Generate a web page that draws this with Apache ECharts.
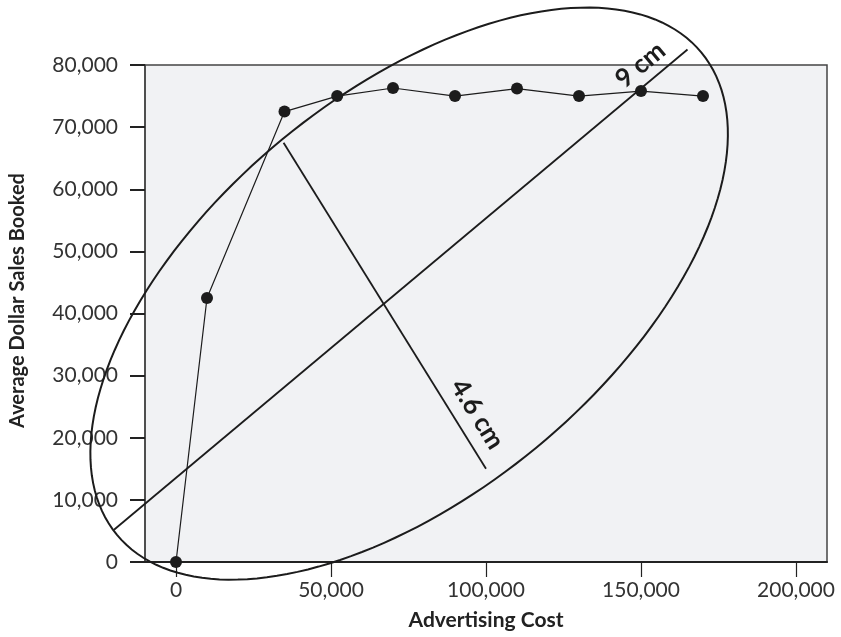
<!DOCTYPE html>
<html>
<head>
<meta charset="utf-8">
<script src="https://cdn.jsdelivr.net/npm/echarts@6/dist/echarts.min.js"></script>
<style>
  html, body { margin: 0; padding: 0; background: #fff; }
  #chart { width: 841px; height: 637px; }
</style>
</head>
<body>
<div id="chart"></div>
<script>
// data
const costs = [0, 10000, 35000, 52000, 70000, 90000, 110000, 130000, 150000, 170000]
const sales = [0, 42500, 72500, 75000, 76300, 75000, 76200, 75000, 75800, 75000]
const xTicks = [0, 50000, 100000, 150000, 200000]

// hand drawn annotation, in data units
const majorAxis = [-20000, 5200, 165000, 82500]
const minorAxis = [34700, 67500, 100000, 15000]
const ellipseCenter = [75200, 43200]
const ellipseMajorEnd = [169500, 82000]
const ellipseMinorEnd = [116200, 18400]
const noteTexts = ['9 cm', '4.6 cm']
const noteX = [149800, 97200]
const noteY = [80000, 23800]
const noteAngles = [40, -58]

const ink = '#1c1c1c'
const font = 'Lato, "Open Sans", sans-serif'

const chart = echarts.init(document.getElementById('chart'))

const option = {
  animation: false,
  backgroundColor: '#fff',
  grid: {
    left: 145,
    right: 14,
    top: 65,
    bottom: 75,
    show: true,
    backgroundColor: '#f1f2f4',
    borderColor: '#444',
    borderWidth: 1.5
  },
  xAxis: {
    type: 'value',
    min: -10000,
    max: 210000,
    name: 'Advertising Cost',
    nameLocation: 'middle',
    nameGap: 48,
    nameTextStyle: { fontFamily: font, fontWeight: 'bold', fontSize: 21, color: '#222' },
    axisLine: { show: true, onZero: false, lineStyle: { color: '#222', width: 2 } },
    axisTick: { show: true, length: 15, customValues: xTicks, lineStyle: { color: '#222', width: 1.2 } },
    axisLabel: {
      customValues: xTicks,
      margin: 18,
      fontFamily: font,
      fontSize: 21,
      color: '#333',
      formatter: v => v.toLocaleString('en-US')
    },
    splitLine: { show: false }
  },
  yAxis: {
    type: 'value',
    min: 0,
    max: 80000,
    interval: 10000,
    name: 'Average Dollar Sales Booked',
    nameLocation: 'middle',
    nameGap: 117,
    nameTextStyle: { fontFamily: font, fontWeight: 'bold', fontSize: 20, color: '#222', padding: [0, 0, 0, 26] },
    axisLine: { show: true, onZero: false, lineStyle: { color: '#444', width: 1.5 } },
    axisTick: { show: true, length: 15, lineStyle: { color: '#222', width: 2 } },
    axisLabel: {
      margin: 27,
      fontFamily: font,
      fontSize: 21,
      color: '#333',
      formatter: v => v.toLocaleString('en-US')
    },
    splitLine: { show: false }
  },
  series: [
    {
      // ellipse
      type: 'custom',
      clip: false,
      silent: true,
      z: 2,
      data: [[ellipseCenter[0], ellipseCenter[1], ellipseMajorEnd[0], ellipseMajorEnd[1], ellipseMinorEnd[0], ellipseMinorEnd[1]]],
      renderItem (params, api) {
        const c = api.coord([api.value(0), api.value(1)])
        const p = api.coord([api.value(2), api.value(3)])
        const q = api.coord([api.value(4), api.value(5)])
        const pts = []
        for (let i = 0; i < 180; i++) {
          const t = i / 180 * Math.PI * 2
          pts.push([
            c[0] + Math.cos(t) * (p[0] - c[0]) + Math.sin(t) * (q[0] - c[0]),
            c[1] + Math.cos(t) * (p[1] - c[1]) + Math.sin(t) * (q[1] - c[1])
          ])
        }
        return {
          type: 'polygon',
          shape: { points: pts },
          style: { fill: 'none', stroke: ink, lineWidth: 2 }
        }
      }
    },
    {
      // 9 cm / 4.6 cm lines
      type: 'custom',
      clip: false,
      silent: true,
      z: 2,
      data: [majorAxis, minorAxis],
      renderItem (params, api) {
        const a = api.coord([api.value(0), api.value(1)])
        const b = api.coord([api.value(2), api.value(3)])
        return {
          type: 'line',
          shape: { x1: a[0], y1: a[1], x2: b[0], y2: b[1] },
          style: { stroke: ink, lineWidth: 1.8 }
        }
      }
    },
    {
      // length notes
      type: 'custom',
      clip: false,
      silent: true,
      z: 3,
      data: noteTexts.map((t, i) => [noteX[i], noteY[i], noteAngles[i], t]),
      renderItem (params, api) {
        const pt = api.coord([api.value(0), api.value(1)])
        return {
          type: 'text',
          x: pt[0],
          y: pt[1],
          rotation: api.value(2) * Math.PI / 180,
          style: {
            text: noteTexts[params.dataIndex],
            fontFamily: font,
            fontWeight: 'bold',
            fontSize: 26,
            fill: ink,
            align: 'center',
            verticalAlign: 'middle'
          }
        }
      }
    },
    {
      type: 'line',
      clip: false,
      z: 4,
      data: costs.map((c, i) => [c, sales[i]]),
      symbol: 'circle',
      symbolSize: 12,
      itemStyle: { color: ink },
      lineStyle: { color: ink, width: 1.2 }
    }
  ]
}

chart.setOption(option)
</script>
</body>
</html>
